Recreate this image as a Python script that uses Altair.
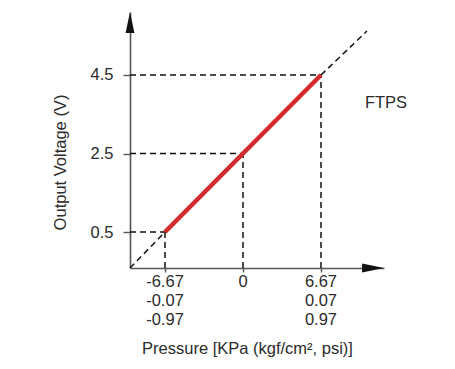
import altair as alt
import pandas as pd

# ---- data ----
x_ticks = [-6.67, 0, 6.67]
kpa_labels = ["-6.67", "0", "6.67"]
kgf_labels = ["-0.07", "", "0.07"]
psi_labels = ["-0.97", "", "0.97"]
y_ticks = [0.5, 2.5, 4.5]

red_x = [-6.67, 6.67]
red_y = [0.5, 4.5]

x_min, x_max = -9.663, 12.058
y_min, y_max = -0.417, 6.105
diag_top = (10.6, 5.62)
arrow_y = (x_min, 5.84)
arrow_x = (11.12, y_min)
ftps_pos = (12.23, 3.79)

FONT = "Liberation Sans"
TXT = "#2b2b2b"
AX = "#555555"
FS = 16.5

xs = alt.Scale(domain=[x_min, x_max], nice=False, zero=False)
ys = alt.Scale(domain=[y_min, y_max], nice=False, zero=False)

x_axis = alt.Axis(values=x_ticks, labels=False, tickSize=4, tickColor=AX, domainColor=AX,
                  domainWidth=1.6, tickWidth=1.4, grid=False, title="Pressure [KPa (kgf/cm², psi)]",
                  titleFont=FONT, titleFontSize=FS, titleFontWeight="normal", titleColor=TXT,
                  titleX=117, titleY=80, titleBaseline="middle", titleAlign="center")
y_axis = alt.Axis(values=y_ticks, tickSize=7, tickColor=AX, domainColor=AX, domainWidth=1.6,
                  tickWidth=1.4, grid=False, labelFont=FONT, labelFontSize=FS, labelColor=TXT,
                  labelPadding=10, format=".1f", title="Output Voltage (V)",
                  titleFont=FONT, titleFontSize=FS, titleFontWeight="normal", titleColor=TXT,
                  titleX=-70, titleY=150, titleBaseline="middle", titleAlign="center", titleAngle=-90)

# dashed guide segments
segs = []
for xt, yt in zip(x_ticks, y_ticks):
    segs.append(dict(x=x_min, x2=xt, y=yt, y2=yt))
    segs.append(dict(x=xt, x2=xt, y=y_min, y2=yt))
segs.append(dict(x=x_min, x2=red_x[0], y=y_min, y2=red_y[0]))
segs.append(dict(x=red_x[1], x2=diag_top[0], y=red_y[1], y2=diag_top[1]))
seg_df = pd.DataFrame(segs)

dashed = alt.Chart(seg_df).mark_rule(color="#111111", strokeWidth=1.5, strokeDash=[6, 4]).encode(
    x=alt.X("x:Q", scale=xs, axis=x_axis),
    x2="x2:Q",
    y=alt.Y("y:Q", scale=ys, axis=y_axis),
    y2="y2:Q",
)

red_df = pd.DataFrame({"x": red_x, "y": red_y})
red = alt.Chart(red_df).mark_line(color="#d42a2c", strokeWidth=4.5, strokeCap="butt").encode(
    x=alt.X("x:Q", scale=xs), y=alt.Y("y:Q", scale=ys)
)

up_df = pd.DataFrame({"x": [arrow_y[0]], "y": [arrow_y[1]]})
up_arrow = alt.Chart(up_df).mark_point(shape="M0,-1L0.42,1L-0.42,1Z", size=441, filled=True,
                                       color="#111111", opacity=1).encode(
    x=alt.X("x:Q", scale=xs), y=alt.Y("y:Q", scale=ys)
)
rt_df = pd.DataFrame({"x": [arrow_x[0]], "y": [arrow_x[1]]})
rt_arrow = alt.Chart(rt_df).mark_point(shape="M1,0L-1,-0.4L-1,0.4Z", size=484, filled=True,
                                       color="#111111", opacity=1).encode(
    x=alt.X("x:Q", scale=xs), y=alt.Y("y:Q", scale=ys)
)

lab_df = pd.DataFrame({
    "x": x_ticks,
    "y": [y_min] * 3,
    "t": [f"{a}\n{b}\n{c}" for a, b, c in zip(kpa_labels, kgf_labels, psi_labels)],
})
xlabels = alt.Chart(lab_df).mark_text(font=FONT, fontSize=FS, color=TXT, baseline="top",
                                      align="center", dy=6, lineBreak="\n", lineHeight=19).encode(
    x=alt.X("x:Q", scale=xs), y=alt.Y("y:Q", scale=ys), text="t:N"
)

ftps_df = pd.DataFrame({"x": [ftps_pos[0]], "y": [ftps_pos[1]], "t": ["FTPS"]})
ftps = alt.Chart(ftps_df).mark_text(font=FONT, fontSize=FS, color=TXT, align="center",
                                    baseline="middle").encode(
    x=alt.X("x:Q", scale=xs), y=alt.Y("y:Q", scale=ys), text="t:N"
)

chart = alt.layer(dashed, red, up_arrow, rt_arrow, xlabels, ftps).properties(
    width=254, height=256,
    autosize=alt.AutoSizeParams(type="none"),
    padding={"left": 122, "top": 4, "right": 63, "bottom": 93},
    background="white",
).configure_view(stroke=None, clip=False)

chart.save("out.html", embed_options={"renderer": "svg", "actions": False})
